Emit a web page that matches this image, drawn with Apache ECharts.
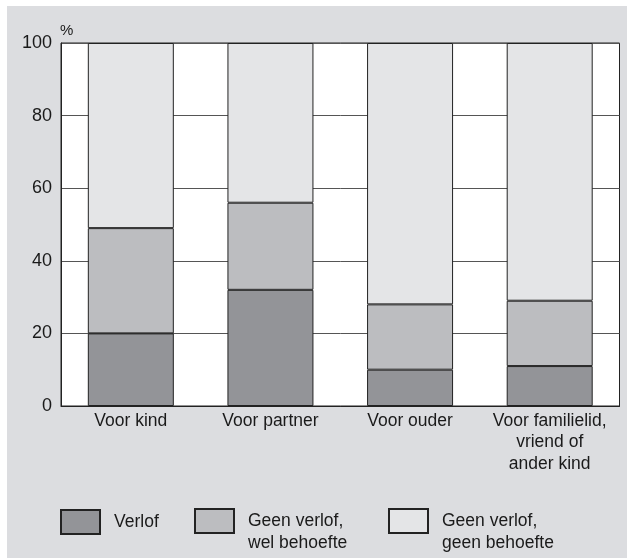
<!DOCTYPE html>
<html>
<head>
<meta charset="utf-8">
<script src="https://cdn.jsdelivr.net/npm/echarts@6/dist/echarts.min.js"></script>
<style>
  html, body { margin: 0; padding: 0; background: #fff; }
  #chart { position: absolute; left: 7px; top: 6px; width: 620px; height: 552px; background: #dcdde0; }
</style>
</head>
<body>
<div id="chart"></div>
<script>
// categories / values (percent)
const categories = ['Voor kind', 'Voor partner', 'Voor ouder', 'Voor familielid,\nvriend of\nander kind'];
const verlof = [20, 32, 10, 11];
const welBehoefte = [29, 24, 18, 18];
const geenBehoefte = [51, 44, 72, 71];
const yTicks = [0, 20, 40, 60, 80, 100];

const names = ['Verlof', 'Geen verlof,\nwel behoefte', 'Geen verlof,\ngeen behoefte'];
const colors = ['#939498', '#bcbdc0', '#e4e5e7'];
const font = "'Liberation Sans', Arial, sans-serif";

const chart = echarts.init(document.getElementById('chart'));

// one legend per item so each can sit where the picture has it.
// two-line labels get an empty first line so the real first line lines up with the box
const mkLegend = (name, left, top, multi) => ({
  data: [{name: name, icon: 'rect'}],
  formatter: n => multi ? ' \n' + n : n,
  left: left,
  top: top,
  padding: 0,
  orient: 'horizontal',
  itemWidth: 39,
  itemHeight: 24,
  selectedMode: false,
  textStyle: {fontFamily: font, fontSize: 17.5, color: '#1a1a1a', lineHeight: 22, padding: [0, 0, 0, 9]}
});

const option = {
  animation: false,
  textStyle: {fontFamily: font},
  grid: {
    left: 54,
    top: 37,
    right: 7.5,
    bottom: 152,
    show: true,
    backgroundColor: '#fff',
    borderColor: '#222',
    borderWidth: 1
  },
  legend: [
    mkLegend(names[0], 53, 503, false),
    mkLegend(names[1], 187, 482, true),
    mkLegend(names[2], 381, 482, true)
  ],
  xAxis: {
    type: 'category',
    data: categories,
    axisTick: {show: false},
    axisLine: {lineStyle: {color: '#222', width: 1}},
    axisLabel: {
      fontFamily: font,
      fontSize: 17.5,
      color: '#1a1a1a',
      lineHeight: 21.5,
      margin: 4,
      interval: 0
    }
  },
  yAxis: {
    type: 'value',
    min: yTicks[0],
    max: yTicks[yTicks.length - 1],
    interval: 20,
    name: '%',
    nameLocation: 'end',
    nameGap: 5,
    nameTextStyle: {fontFamily: font, fontSize: 15, color: '#1a1a1a', align: 'left', padding: [0, 0, 0, -1]},
    axisLine: {show: true, lineStyle: {color: '#222', width: 1}},
    axisTick: {show: false},
    axisLabel: {fontFamily: font, fontSize: 18, color: '#1a1a1a', margin: 9},
    splitLine: {show: true, lineStyle: {color: '#555', width: 1}}
  },
  series: [verlof, welBehoefte, geenBehoefte].map((d, i) => ({
    name: names[i],
    type: 'bar',
    stack: 'total',
    data: d,
    barWidth: 86,
    itemStyle: {color: colors[i], borderColor: '#222', borderWidth: 1}
  }))
};

chart.setOption(option);
</script>
</body>
</html>
